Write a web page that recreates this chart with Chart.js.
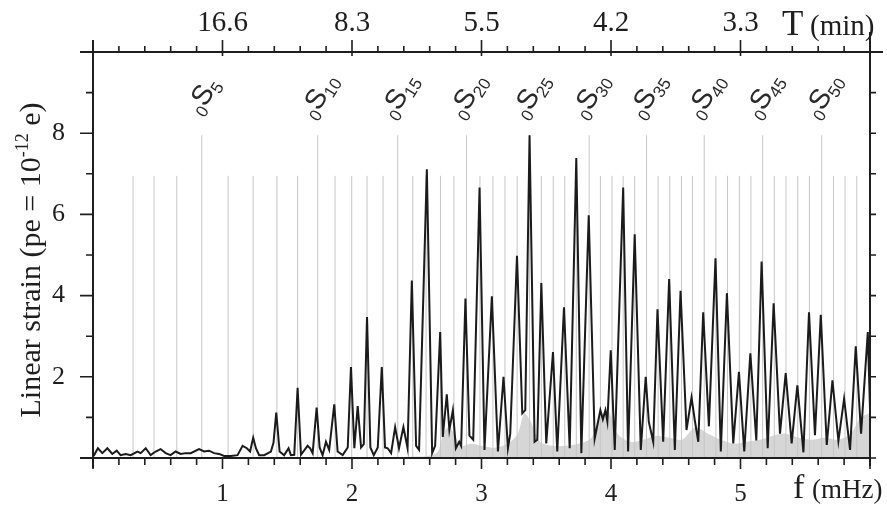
<!DOCTYPE html>
<html>
<head>
<meta charset="utf-8">
<script src="https://cdn.jsdelivr.net/npm/chart.js@4.4.1/dist/chart.umd.min.js"></script>
<style>
  html, body { margin: 0; padding: 0; background: #fff; }
</style>
</head>
<body>
<canvas id="spectrumChart" width="887" height="508"></canvas>
<script>
// spheroidal fundamental modes 0S2 .. 0S53, frequencies in mHz
const firstMode = 2;
const modeFreqs = [
  0.309, 0.471, 0.647, 0.840, 1.043, 1.237, 1.420, 1.580, 1.735, 1.869,
  1.998, 2.116, 2.240, 2.353, 2.469, 2.572, 2.683, 2.787, 2.884, 2.988,
  3.088, 3.181, 3.275, 3.371, 3.462, 3.554, 3.643, 3.732, 3.831, 3.918,
  4.008, 4.094, 4.183, 4.274, 4.364, 4.454, 4.544, 4.630, 4.720, 4.810,
  4.900, 4.991, 5.080, 5.171, 5.261, 5.351, 5.442, 5.532, 5.627, 5.718,
  5.807, 5.898
];
const labelledModes = [5, 10, 15, 20, 25, 30, 35, 40, 45, 50];

// strain spectrum (black curve)
const specFreq = [
  0.005, 0.038, 0.072, 0.111, 0.149, 0.183, 0.213, 0.252, 0.291, 0.343,
  0.368, 0.407, 0.445, 0.484, 0.522, 0.561, 0.599, 0.638, 0.677, 0.716,
  0.755, 0.819, 0.858, 0.896, 0.935, 0.974, 1.012, 1.064, 1.116, 1.155,
  1.188, 1.213, 1.237, 1.258, 1.283, 1.322, 1.374, 1.394, 1.415, 1.441,
  1.476, 1.510, 1.528, 1.554, 1.580, 1.606, 1.657, 1.677, 1.696, 1.727,
  1.750, 1.773, 1.799, 1.824, 1.863, 1.889, 1.928, 1.967, 1.992, 2.018,
  2.044, 2.070, 2.091, 2.116, 2.142, 2.168, 2.199, 2.230, 2.255, 2.276,
  2.302, 2.333, 2.363, 2.397, 2.429, 2.462, 2.495, 2.518, 2.578, 2.619,
  2.642, 2.681, 2.701, 2.732, 2.752, 2.779, 2.802, 2.828, 2.843, 2.876,
  2.907, 2.936, 2.985, 3.023, 3.080, 3.127, 3.170, 3.204, 3.222, 3.274,
  3.315, 3.338, 3.371, 3.410, 3.431, 3.462, 3.500, 3.552, 3.585, 3.637,
  3.681, 3.732, 3.771, 3.828, 3.874, 3.918, 3.937, 3.957, 3.972, 3.998,
  4.029, 4.094, 4.132, 4.183, 4.230, 4.268, 4.292, 4.326, 4.359, 4.403,
  4.449, 4.493, 4.537, 4.583, 4.622, 4.647, 4.674, 4.712, 4.756, 4.807,
  4.848, 4.895, 4.944, 4.988, 5.029, 5.076, 5.122, 5.163, 5.210, 5.256,
  5.305, 5.349, 5.395, 5.439, 5.486, 5.529, 5.575, 5.620, 5.666, 5.710,
  5.756, 5.800, 5.846, 5.890, 5.931, 5.983, 6.000
];
const specAmp = [
  0.05, 0.24, 0.12, 0.24, 0.10, 0.18, 0.07, 0.10, 0.07, 0.16,
  0.12, 0.24, 0.07, 0.16, 0.22, 0.12, 0.07, 0.16, 0.10, 0.12,
  0.12, 0.22, 0.16, 0.18, 0.12, 0.10, 0.05, 0.05, 0.07, 0.30,
  0.24, 0.16, 0.50, 0.24, 0.07, 0.07, 0.16, 0.38, 1.12, 0.16,
  0.07, 0.24, 0.07, 0.08, 1.73, 0.08, 0.30, 0.24, 0.12, 1.24,
  0.26, 0.07, 0.40, 0.20, 1.32, 0.16, 0.07, 0.26, 2.24, 0.24,
  1.28, 0.26, 0.34, 3.47, 0.26, 0.07, 0.26, 2.24, 0.26, 0.24,
  0.12, 0.76, 0.24, 0.76, 0.24, 4.37, 0.30, 0.20, 7.11, 0.12,
  0.30, 3.10, 0.52, 1.57, 0.69, 1.18, 0.24, 0.40, 0.30, 3.93,
  0.55, 0.45, 6.66, 0.20, 3.98, 0.16, 2.00, 0.24, 0.60, 4.98,
  1.10, 1.18, 7.95, 0.40, 0.45, 4.31, 0.36, 2.61, 0.16, 3.71,
  0.24, 7.39, 0.12, 5.98, 0.48, 1.18, 0.95, 1.18, 0.90, 2.65,
  0.20, 6.66, 0.16, 5.51, 0.20, 2.00, 0.89, 0.40, 3.66, 0.40,
  4.41, 0.20, 4.12, 0.69, 1.49, 0.93, 0.40, 3.59, 0.78, 4.92,
  0.16, 4.06, 0.36, 2.12, 0.16, 2.58, 0.43, 4.84, 0.24, 3.81,
  0.60, 2.09, 0.36, 1.79, 0.14, 3.59, 0.56, 3.53, 0.32, 1.91,
  0.42, 1.46, 0.20, 2.75, 0.60, 3.10, 1.20
];

// grey background spectrum
const noiseFreq = [
  0.00, 2.55, 2.66, 2.70, 2.74, 2.79, 2.84, 2.92, 3.00, 3.10,
  3.20, 3.28, 3.33, 3.38, 3.45, 3.55, 3.65, 3.75, 3.85, 3.92,
  3.98, 4.05, 4.15, 4.25, 4.35, 4.45, 4.55, 4.65, 4.75, 4.85,
  4.95, 5.05, 5.15, 5.25, 5.35, 5.45, 5.55, 5.65, 5.75, 5.85,
  5.93, 6.00
];
const noiseAmp = [
  0.02, 0.04, 0.15, 0.55, 0.75, 0.60, 0.30, 0.35, 0.30, 0.25,
  0.35, 0.60, 1.10, 0.90, 0.40, 0.30, 0.30, 0.35, 0.50, 1.05,
  1.15, 0.60, 0.40, 0.45, 0.55, 0.50, 0.45, 0.75, 0.60, 0.45,
  0.35, 0.40, 0.45, 0.55, 0.60, 0.50, 0.45, 0.50, 0.45, 0.60,
  1.00, 1.10
];

// top axis: period in minutes at 1..5 mHz
const periodLabels = ['16.6', '8.3', '5.5', '4.2', '3.3'];

const shortLineTop = 6.95;
const tallLineTop = 7.95;

const modeSegments = [];
modeFreqs.forEach((f, i) => {
  const n = i + firstMode;
  const top = n % 5 === 0 ? tallLineTop : shortLineTop;
  modeSegments.push({ x: f, y: 0 }, { x: f, y: top }, { x: f, y: null });
});

const serif = 'Liberation Serif';
const ink = '#1e1e1e';

const axisFrame = {
  id: 'axisFrame',
  afterDraw(chart) {
    const { ctx, chartArea: a, scales } = chart;
    const xs = scales.x, ys = scales.y;
    ctx.save();
    ctx.strokeStyle = ink;
    ctx.lineWidth = 2;
    ctx.beginPath();
    ctx.moveTo(a.left - 13, a.top); ctx.lineTo(chart.width - 4, a.top);
    ctx.moveTo(a.left - 13, a.bottom); ctx.lineTo(a.right, a.bottom);
    ctx.moveTo(a.left, a.top - 12); ctx.lineTo(a.left, a.bottom + 10);
    ctx.moveTo(a.right, a.top - 20); ctx.lineTo(a.right, a.bottom + 8);
    ctx.stroke();

    ctx.lineWidth = 1.6;
    ctx.beginPath();
    for (let i = 0; i <= 30; i++) {
      const px = xs.getPixelForValue(i / 5);
      const major = i % 5 === 0;
      ctx.moveTo(px, a.bottom); ctx.lineTo(px, a.bottom + (major ? 11 : 7));
      ctx.moveTo(px, a.top + (major ? 4 : 0)); ctx.lineTo(px, a.top - (major ? 12 : 6));
    }
    for (let v = 0; v <= 10; v++) {
      const py = ys.getPixelForValue(v);
      ctx.moveTo(a.left, py); ctx.lineTo(a.left - (v % 2 === 0 ? 13 : 7), py);
      ctx.moveTo(a.right, py); ctx.lineTo(a.right + 6, py);
    }
    ctx.stroke();

    // mode labels 0Sn
    ctx.fillStyle = '#2a2a2a';
    ctx.textBaseline = 'alphabetic';
    const bigFont = '28px Liberation Sans';
    const subFont = '17px Liberation Sans';
    labelledModes.forEach(n => {
      const f = modeFreqs[n - firstMode];
      const cx = xs.getPixelForValue(f);
      const cy = ys.getPixelForValue(8.95);
      ctx.save();
      ctx.translate(cx, cy);
      ctx.rotate(-58 * Math.PI / 180);
      ctx.font = subFont; const w0 = ctx.measureText('0').width;
      ctx.font = bigFont; const wS = ctx.measureText('S').width;
      ctx.font = subFont; const wn = ctx.measureText(String(n)).width;
      let x = -(w0 + wS + wn) / 2;
      ctx.font = subFont; ctx.fillText('0', x, 15); x += w0;
      ctx.font = bigFont; ctx.fillText('S', x, 10); x += wS;
      ctx.font = subFont; ctx.fillText(String(n), x, 15);
      ctx.restore();
    });

    // y title with superscript
    ctx.fillStyle = ink;
    ctx.save();
    ctx.translate(40, 260);
    ctx.rotate(-Math.PI / 2);
    const mainFont = '30px ' + serif, supFont = '18px ' + serif;
    const parts = [['Linear strain (pe = 10', mainFont, 0], ['-12', supFont, -12], [' e)', mainFont, 0]];
    let total = 0;
    parts.forEach(p => { ctx.font = p[1]; total += ctx.measureText(p[0]).width; });
    let tx = -total / 2;
    parts.forEach(p => { ctx.font = p[1]; ctx.fillText(p[0], tx, p[2]); tx += ctx.measureText(p[0]).width; });
    ctx.restore();

    // axis names
    ctx.font = '35px ' + serif; ctx.fillText('T', 782, 35);
    ctx.font = '29px ' + serif; ctx.fillText('(min)', 810, 35);
    ctx.font = '34px ' + serif; ctx.fillText('f', 793, 498);
    ctx.font = '27px ' + serif; ctx.fillText('(mHz)', 812, 498);
    ctx.restore();
  }
};

new Chart(document.getElementById('spectrumChart'), {
  type: 'line',
  data: {
    datasets: [
      {
        label: 'Linear strain',
        data: specFreq.map((f, i) => ({ x: f, y: specAmp[i] })),
        borderColor: '#1b1b1b',
        borderWidth: 2,
        pointRadius: 0,
        tension: 0,
        fill: false,
      },
      {
        label: 'Modes',
        data: modeSegments,
        borderColor: '#c6c6c6',
        borderWidth: 1,
        pointRadius: 0,
        spanGaps: false,
        fill: false,
      },
      {
        label: 'Background',
        data: noiseFreq.map((f, i) => ({ x: f, y: noiseAmp[i] })),
        borderWidth: 0,
        backgroundColor: '#d6d6d6',
        pointRadius: 0,
        tension: 0.3,
        fill: 'origin',
      },
    ],
  },
  options: {
    responsive: false,
    animation: false,
    devicePixelRatio: 1,
    layout: { padding: 0 },
    plugins: { legend: { display: false }, tooltip: { enabled: false } },
    scales: {
      x: {
        type: 'linear', position: 'bottom', min: 0, max: 6,
        grid: { display: false }, border: { display: false },
        ticks: {
          stepSize: 1, padding: 13, color: ink, maxRotation: 0, autoSkip: false,
          font: { family: serif, size: 25 },
          callback: v => (v > 0 && v < 6 ? v : ''),
        },
        afterFit(s) { s.height = 50; },
      },
      x2: {
        type: 'linear', position: 'top', min: 0, max: 6,
        grid: { display: false }, border: { display: false },
        ticks: {
          stepSize: 1, padding: 3, color: ink, maxRotation: 0, autoSkip: false,
          font: { family: serif, size: 29 },
          callback: v => periodLabels[v - 1] ?? '',
        },
        afterFit(s) { s.height = 52; },
      },
      y: {
        type: 'linear', position: 'left', min: 0, max: 10,
        grid: { display: false }, border: { display: false },
        ticks: {
          stepSize: 2, padding: 20, color: ink,
          font: { family: serif, size: 26 },
          callback: v => (v > 0 && v < 10 ? v : ''),
        },
        afterFit(s) { s.width = 93; },
      },
      y2: {
        type: 'linear', position: 'right', min: 0, max: 10,
        grid: { display: false }, border: { display: false },
        ticks: { display: false },
        afterFit(s) { s.width = 17; },
      },
    },
  },
  plugins: [axisFrame],
});
</script>
</body>
</html>
